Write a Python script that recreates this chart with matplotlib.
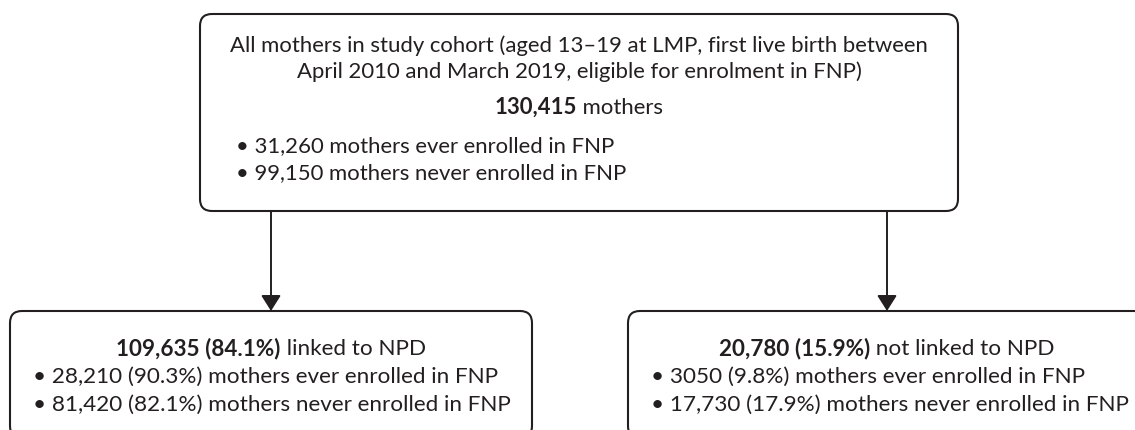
import matplotlib
matplotlib.use('Agg')
import matplotlib.pyplot as plt
from matplotlib.patches import FancyBboxPatch

plt.rcParams['font.family'] = ['Lato', 'DejaVu Sans']

INK = '#231f20'
FS_TOP = 15.9
FS_BOT = 16.2

# top box text
top_intro = ['All mothers in study cohort (aged 13\u201319 at LMP, first live birth between',
             'April 2010 and March 2019, eligible for enrolment in FNP)']
top_total = ('130,415', ' mothers')
top_bullets = ['31,260 mothers ever enrolled in FNP',
               '99,150 mothers never enrolled in FNP']

# bottom boxes
left_head = ('109,635 (84.1%)', ' linked to NPD')
left_bullets = ['28,210 (90.3%) mothers ever enrolled in FNP',
                '81,420 (82.1%) mothers never enrolled in FNP']
right_head = ('20,780 (15.9%)', ' not linked to NPD')
right_bullets = ['3050 (9.8%) mothers ever enrolled in FNP',
                 '17,730 (17.9%) mothers never enrolled in FNP']

fig = plt.figure(figsize=(11.35, 4.3), dpi=100)
ax = fig.add_axes([0, 0, 1, 1])
ax.set_xlim(0, 1135)
ax.set_ylim(430, 0)
ax.axis('off')
renderer = fig.canvas.get_renderer()


def box(x0, y0, x1, y1):
    p = FancyBboxPatch((x0, y0), x1 - x0, y1 - y0,
                       boxstyle='round,pad=0,rounding_size=12',
                       fc='white', ec=INK, lw=1.5, clip_on=True)
    ax.add_patch(p)


def mixed(cx, y, bold, normal, fs):
    # bold part then regular part, centred as one line
    t1 = ax.text(0, y, bold, fontsize=fs, fontweight='bold', color=INK, va='baseline')
    t2 = ax.text(0, y, normal, fontsize=fs, color=INK, va='baseline')
    w1 = t1.get_window_extent(renderer).width
    w2 = t2.get_window_extent(renderer).width
    x0 = cx - (w1 + w2) / 2
    t1.set_x(x0)
    t2.set_x(x0 + w1)


def bullets(x, y0, items, fs, step=28):
    for i, s in enumerate(items):
        ax.text(x, y0 + i * step, '\u2022 ' + s, fontsize=fs, color=INK, va='baseline')


def arrow(x, y0, y1):
    ax.annotate('', xy=(x, y1), xytext=(x, y0),
                arrowprops=dict(arrowstyle='-|>,head_length=0.95,head_width=0.6',
                                mutation_scale=10, lw=1.4, color=INK,
                                shrinkA=0, shrinkB=0))


# top
box(200, 14, 958, 211)
for i, s in enumerate(top_intro):
    ax.text(579, 52 + i * 26, s, fontsize=FS_TOP, color=INK, ha='center', va='baseline')
mixed(579, 114, *top_total, FS_TOP)
bullets(236, 152, top_bullets, FS_TOP, step=27)

# arrows
arrow(271, 211, 311)
arrow(887, 211, 311)

# bottom left
box(10, 311, 532, 438)
mixed(271, 355, *left_head, FS_BOT)
bullets(33, 383, left_bullets, FS_BOT)

# bottom right
box(628, 311, 1146, 438)
mixed(887, 355, *right_head, FS_BOT)
bullets(651, 383, right_bullets, FS_BOT)

fig.savefig('out.png', dpi=100)
